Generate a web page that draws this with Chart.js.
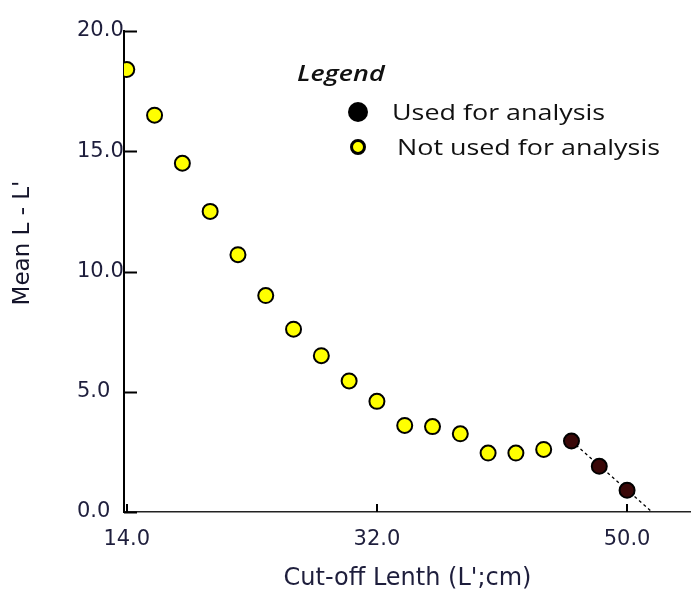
<!DOCTYPE html>
<html>
<head>
<meta charset="utf-8">
<script src="https://cdn.jsdelivr.net/npm/chart.js@4"></script>
<style>
  body { margin: 0; background: #fff; }
  #wrap { position: relative; width: 691px; height: 589px; }
  .lg { position: absolute; font-family: "Open Sans", sans-serif; font-size: 21px; color: #111;
        line-height: 28px; height: 28px; white-space: nowrap; transform: scaleX(1.28); transform-origin: left center; }
  .dot { position: absolute; border-radius: 50%; box-sizing: border-box; }
</style>
</head>
<body>
<div id="wrap">
  <canvas id="chart" width="691" height="589"></canvas>
  <div class="lg" style="left:297px; top:59px; font-style:italic; font-weight:600;">Legend</div>
  <div class="dot" style="left:348px; top:102px; width:20px; height:20px; background:#000;"></div>
  <div class="lg" style="left:392px; top:98px;">Used for analysis</div>
  <div class="dot" style="left:350px; top:139px; width:16px; height:16px; background:#ffff00; border:3px solid #000;"></div>
  <div class="lg" style="left:397px; top:133px;">Not used for analysis</div>
</div>
<script>
// cut-off length L' (cm) and mean L - L'
const notUsedX = [14, 16, 18, 20, 22, 24, 26, 28, 30, 32, 34, 36, 38, 40, 42, 44];
const notUsedY = [18.4, 16.5, 14.5, 12.5, 10.7, 9.0, 7.6, 6.5, 5.45, 4.6, 3.6, 3.55, 3.25, 2.45, 2.45, 2.6];
const usedX = [46, 48, 50];
const usedY = [2.95, 1.9, 0.9];
// fitted line through the points used for analysis
const fitX = [46, 51.8];
const fitY = [2.95, 0];
const xTicks = [14, 32, 50];
const yTicks = [0, 5, 10, 15, 20];

const pts = (xs, ys) => xs.map((x, i) => ({ x: x, y: ys[i] }));

const yTitle = {
  id: 'yTitle',
  afterDraw(chart) {
    const ctx = chart.ctx;
    ctx.save();
    ctx.translate(23, 243);
    ctx.rotate(-Math.PI / 2);
    ctx.font = '23px "DejaVu Sans"';
    ctx.fillStyle = '#14142a';
    ctx.textAlign = 'center';
    ctx.textBaseline = 'middle';
    ctx.fillText("Mean L - L'", 0, 0);
    ctx.restore();
  }
};

// tick marks pointing into the plot
const innerTicks = {
  id: 'innerTicks',
  afterDatasetsDraw(chart) {
    const { ctx, scales: { x, y }, chartArea } = chart;
    ctx.save();
    ctx.strokeStyle = '#000';
    ctx.lineWidth = 2;
    ctx.beginPath();
    yTicks.forEach(v => {
      const py = Math.round(y.getPixelForValue(v)) + 0.5;
      ctx.moveTo(chartArea.left, py);
      ctx.lineTo(chartArea.left + 13, py);
    });
    xTicks.forEach(v => {
      const px = Math.round(x.getPixelForValue(v));
      ctx.moveTo(px, chartArea.bottom);
      ctx.lineTo(px, chartArea.bottom - 8);
    });
    ctx.stroke();
    ctx.restore();
  }
};

new Chart(document.getElementById('chart'), {
  type: 'scatter',
  data: {
    datasets: [
      {
        label: 'Used for analysis',
        data: pts(usedX, usedY),
        backgroundColor: '#3a0808',
        borderColor: '#000',
        borderWidth: 2,
        pointRadius: 7.5,
        order: 1
      },
      {
        label: 'Not used for analysis',
        data: pts(notUsedX, notUsedY),
        backgroundColor: '#ffff00',
        borderColor: '#000',
        borderWidth: 2,
        pointRadius: 7.5,
        order: 1
      },
      {
        label: 'fit',
        data: pts(fitX, fitY),
        showLine: true,
        borderColor: '#000',
        borderWidth: 1.3,
        borderDash: [3, 3],
        pointRadius: 0,
        order: 2
      }
    ]
  },
  options: {
    responsive: false,
    animation: false,
    layout: { autoPadding: false, padding: { left: 77, top: 31, right: 0, bottom: 0 } },
    plugins: { legend: { display: false }, tooltip: { enabled: false } },
    scales: {
      x: {
        type: 'linear',
        min: 13.8,
        max: 54.6,
        afterBuildTicks: s => { s.ticks = xTicks.map(v => ({ value: v })); },
        afterFit: s => { s.height = 77; s.paddingLeft = 0; s.paddingRight = 0; },
        grid: { display: false, drawTicks: false },
        border: { display: true, color: '#222', width: 1.5 },
        ticks: {
          padding: 15,
          color: '#1e1e3c',
          font: { family: 'DejaVu Sans', size: 21 },
          callback: v => v.toFixed(1)
        },
        title: {
          display: true,
          text: "Cut-off Lenth (L';cm)",
          color: '#1e1e3c',
          font: { family: 'DejaVu Sans', size: 24 },
          padding: { top: 4, bottom: -4 }
        }
      },
      y: {
        min: 0,
        max: 20,
        afterBuildTicks: s => { s.ticks = yTicks.map(v => ({ value: v })); },
        afterFit: s => { s.width = 47; },
        grid: { display: false, drawTicks: false },
        border: { display: true, color: '#000', width: 2 },
        ticks: {
          padding: 0,
          crossAlign: 'far',
          color: '#1e1e3c',
          font: { family: 'DejaVu Sans', size: 21 },
          callback: v => v.toFixed(1)
        }
      }
    }
  },
  plugins: [yTitle, innerTicks]
});
</script>
</body>
</html>
